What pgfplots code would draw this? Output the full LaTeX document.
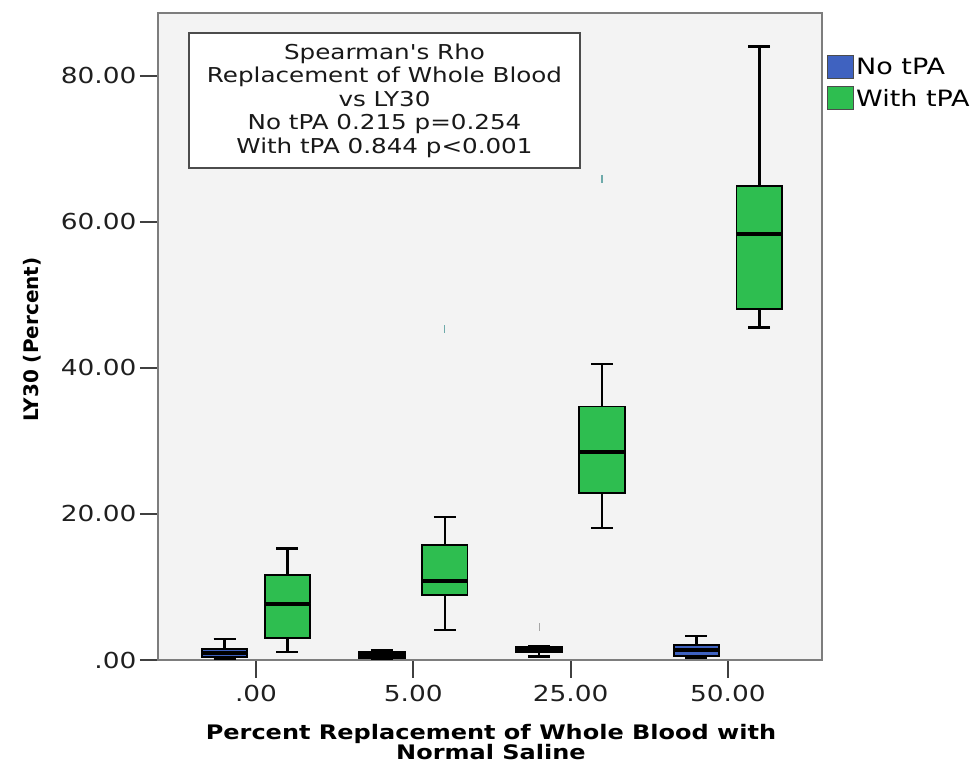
\documentclass[border=0pt]{standalone}
\usepackage{pgfplots}
\pgfplotsset{compat=1.18}
\usepgfplotslibrary{statistics}
\usepackage{fontspec}
\setmainfont[FakeStretch=1.2]{DejaVu Sans}
\newfontfamily\labfont{DejaVu Sans}
\newfontfamily\labfontw[FakeStretch=1.2]{DejaVu Sans}
\newfontfamily\apfont[FakeStretch=1.2, Ligatures=TeXOff]{DejaVu Sans}
\definecolor{bgc}{RGB}{243,243,243}
\definecolor{nblue}{RGB}{63,98,192}
\definecolor{wgreen}{RGB}{46,190,80}
\definecolor{framec}{RGB}{125,125,125}
\definecolor{outc}{RGB}{110,170,170}
\begin{document}
\begin{tikzpicture}
\useasboundingbox (0pt,0pt) rectangle (975pt,767pt);
\begin{axis}[
  at={(158pt,107pt)}, anchor=south west,
  scale only axis, width=664pt, height=647pt,
  xmin=-0.623, xmax=3.598, ymin=0, ymax=88.6,
  axis background/.style={fill=bgc},
  axis line style={draw=framec, line width=2.5pt},
  xtick={0,1,2,3}, xticklabels={.00,5.00,25.00,50.00},
  ytick={0,20,40,60,80}, yticklabels={.00,20.00,40.00,60.00,80.00},
  tick align=outside, xtick pos=bottom, ytick pos=left,
  major tick length=18pt,
  tick style={draw=black!75, line width=1.8pt},
  tick label style={font=\fontsize{22}{26}\selectfont, text=black!88},
  xticklabel style={yshift=-4pt},
  xlabel={Percent Replacement of Whole Blood with\\Normal Saline},
  ylabel={LY30 (Percent)},
  every axis x label/.style={at={(axis description cs:0.5015,-0.127)}, anchor=center, align=center, font=\labfontw\bfseries\fontsize{20}{19.5}\selectfont},
  every axis y label/.style={at={(axis description cs:-0.19,0.495)}, anchor=center, rotate=90, font=\labfont\bfseries\fontsize{20}{24}\selectfont},
  boxplot/draw direction=y,
  boxplot/box extend=0.29,
  boxplot/whisker extend=0.14,
  boxplot/every median/.style={line width=4pt, draw=black},
  boxplot/every whisker/.style={line width=2.5pt},
  boxplot/every box/.style={line width=1.8pt},
  legend style={at={(axis description cs:1.0075,0.935)}, anchor=north west, draw=none, fill=none, inner sep=0pt, row sep=7pt, font=\fontsize{22.5}{27}\selectfont, nodes={inner sep=2pt}},
  legend cell align=left,
  legend image code/.code={\draw[#1] (0pt,-11.5pt) rectangle (26pt,11.5pt);},
]
\addlegendimage{fill=nblue, draw=black!70, line width=1pt}
\addlegendentry{No tPA}
\addlegendimage{fill=wgreen, draw=black!70, line width=1pt}
\addlegendentry{With tPA}

% No tPA
\addplot[boxplot prepared={draw position=-0.2, lower whisker=0.1, lower quartile=0.4, median=1.0, upper quartile=1.5, upper whisker=2.9}, fill=nblue, draw=black] coordinates {};
\addplot[boxplot prepared={draw position=0.8, lower whisker=0.2, lower quartile=0.3, median=0.7, upper quartile=1.1, upper whisker=1.4}, fill=nblue, draw=black] coordinates {};
\addplot[boxplot prepared={draw position=1.8, lower whisker=0.5, lower quartile=1.1, median=1.4, upper quartile=1.8, upper whisker=1.9}, fill=nblue, draw=black, mark=|, mark size=4pt, mark options={draw=gray!70, line width=1.2pt}] table[row sep=\\, y index=0] {data\\ 4.5\\};
\addplot[boxplot prepared={draw position=2.8, lower whisker=0.3, lower quartile=0.55, median=1.4, upper quartile=2.05, upper whisker=3.3}, fill=nblue, draw=black] coordinates {};

% With tPA
\addplot[boxplot prepared={draw position=0.2, lower whisker=1.1, lower quartile=3.0, median=7.7, upper quartile=11.6, upper whisker=15.3}, fill=wgreen, draw=black] coordinates {};
\addplot[boxplot prepared={draw position=1.2, lower whisker=4.1, lower quartile=8.9, median=10.8, upper quartile=15.75, upper whisker=19.6}, fill=wgreen, draw=black, mark=|, mark size=4pt, mark options={draw=outc, line width=1.2pt}] table[row sep=\\, y index=0] {data\\ 45.3\\};
\addplot[boxplot prepared={draw position=2.2, lower whisker=18.1, lower quartile=22.9, median=28.5, upper quartile=34.7, upper whisker=40.5}, fill=wgreen, draw=black, mark=|, mark size=4pt, mark options={draw=outc, line width=1.2pt}] table[row sep=\\, y index=0] {data\\ 65.9\\};
\addplot[boxplot prepared={draw position=3.2, lower whisker=45.5, lower quartile=48.1, median=58.3, upper quartile=64.9, upper whisker=84.0}, fill=wgreen, draw=black] coordinates {};
\end{axis}
\node[draw=black!70, line width=2.5pt, fill=white, minimum width=391pt, minimum height=135pt, align=center, inner sep=0pt, font=\fontsize{20.5}{23.5}\selectfont, text=black!90] at (384.5pt,666.5pt) {{\apfont Spearman's} Rho\\Replacement of Whole Blood\\vs LY30\\No tPA 0.215 p=0.254\\With tPA 0.844 p<0.001};
\end{tikzpicture}
\end{document}
